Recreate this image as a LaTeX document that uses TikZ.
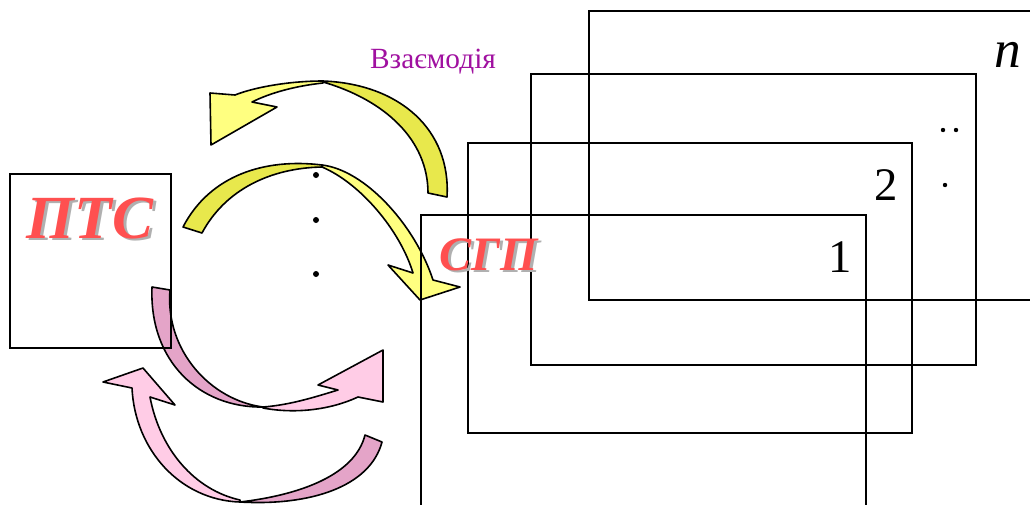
\documentclass[tikz,border=0pt]{standalone}
\usepackage{fontspec}
\setmainfont{Liberation Serif}
\definecolor{ylight}{HTML}{FFFF80}
\definecolor{ydark}{HTML}{E8E84C}
\definecolor{plight}{HTML}{FFCCE6}
\definecolor{pdark}{HTML}{E4A4C8}
\definecolor{titlered}{HTML}{FF5050}
\definecolor{shadowgray}{HTML}{B0B0B0}
\definecolor{violet}{HTML}{A010A0}
\newcommand{\shadowtext}[2]{\makebox[0pt][l]{\hspace{#1}\raisebox{-#1}{\textcolor{shadowgray}{#2}}}#2}
\tikzset{
  frame/.style={draw=black, line width=1.3pt},
  arrowpart/.style={draw=black, line width=1.2pt, line join=round},
  title/.style={font=\fontsize{#1}{#1}\selectfont\bfseries\itshape, text=titlered, inner sep=0pt, anchor=base},
  numlabel/.style={font=\fontsize{35}{35}\selectfont, inner sep=0pt, anchor=base},
  dotmark/.style={fill=black, draw=none}
}
\begin{document}
\begin{tikzpicture}[x=0.75pt,y=-0.75pt]
\useasboundingbox (0,0) rectangle (1030,504);
\clip (0,0) rectangle (1030,504);

% ---------- yellow arrow 1 (top, pointing left) ----------
\path[arrowpart, fill=ydark] (323,81) .. controls (400,84) and (451,130) .. (447,197)
  -- (428,193) .. controls (428,140) and (385,100) .. (323,82) -- cycle;
\path[arrowpart, fill=ylight] (323,81) .. controls (290,81) and (255,87) .. (235,95)
  -- (210,93) -- (211,145) -- (277,107) -- (252,102)
  .. controls (270,93) and (295,86) .. (323,83) -- cycle;

% ---------- yellow arrow 2 (pointing right into SGP) ----------
\path[arrowpart, fill=ydark] (183,227) .. controls (210,175) and (265,158) .. (322,165)
  -- (322,167) .. controls (270,168) and (225,190) .. (202,233) -- cycle;
\path[arrowpart, fill=ylight] (322,165) .. controls (365,170) and (415,225) .. (433,280)
  -- (460,287) -- (420,300) -- (388,265) -- (413,273)
  .. controls (400,230) and (360,183) .. (322,167) -- cycle;

% ---------- pink arrow 3 (from PTS to the right) ----------
\path[arrowpart, fill=pdark] (152,287) .. controls (149,362) and (200,408) .. (263,407)
  .. controls (210,400) and (165,350) .. (170,290) -- cycle;
\path[arrowpart, fill=plight] (263,407) .. controls (290,405) and (315,397) .. (338,390)
  -- (318,385) -- (383,350) -- (383,402) -- (358,397)
  .. controls (330,410) and (295,414) .. (263,408) -- cycle;

% ---------- pink arrow 4 (back towards PTS) ----------
\path[arrowpart, fill=pdark] (382,442) .. controls (370,487) and (310,506) .. (240,502)
  .. controls (300,495) and (355,475) .. (365,435) -- cycle;
\path[arrowpart, fill=plight] (240,502) .. controls (180,500) and (135,450) .. (132,388)
  -- (103,382) -- (143,368) -- (175,405) -- (150,397)
  .. controls (160,450) and (195,490) .. (240,500) -- cycle;

% ---------- frames ----------
\draw[frame] (1040,11) -- (589,11) -- (589,300) -- (1040,300);
\draw[frame] (531,74) rectangle (976,365);
\draw[frame] (468,143) rectangle (912,433);
\draw[frame] (421,515) -- (421,215) -- (866,215) -- (866,515);
\draw[frame] (10,174) rectangle (171,348);

% ---------- dots ----------
\fill[dotmark] (316,175) circle (3);
\fill[dotmark] (316,220) circle (3);
\fill[dotmark] (316,274) circle (3);
\fill[dotmark] (943,130) circle (2.2);
\fill[dotmark] (956,130) circle (2.2);
\fill[dotmark] (945,185) circle (2.2);

% ---------- labels ----------
\node[title=46] (pts) at (90,238) {\shadowtext{2.2pt}{ПТС}};
\node[title=36] (sgp) at (489,270) {\shadowtext{1.8pt}{СГП}};
\node[font=\fontsize{22}{22}\selectfont, text=violet, inner sep=0pt, anchor=base] (inter) at (433,68) {Взаємодія};
\node[numlabel] (one) at (840,272) {1};
\node[numlabel] (two) at (886,200) {2};
\node[font=\fontsize{40}{40}\selectfont\itshape, inner sep=0pt, anchor=base] (nn) at (1008,67) {n};
\end{tikzpicture}
\end{document}
